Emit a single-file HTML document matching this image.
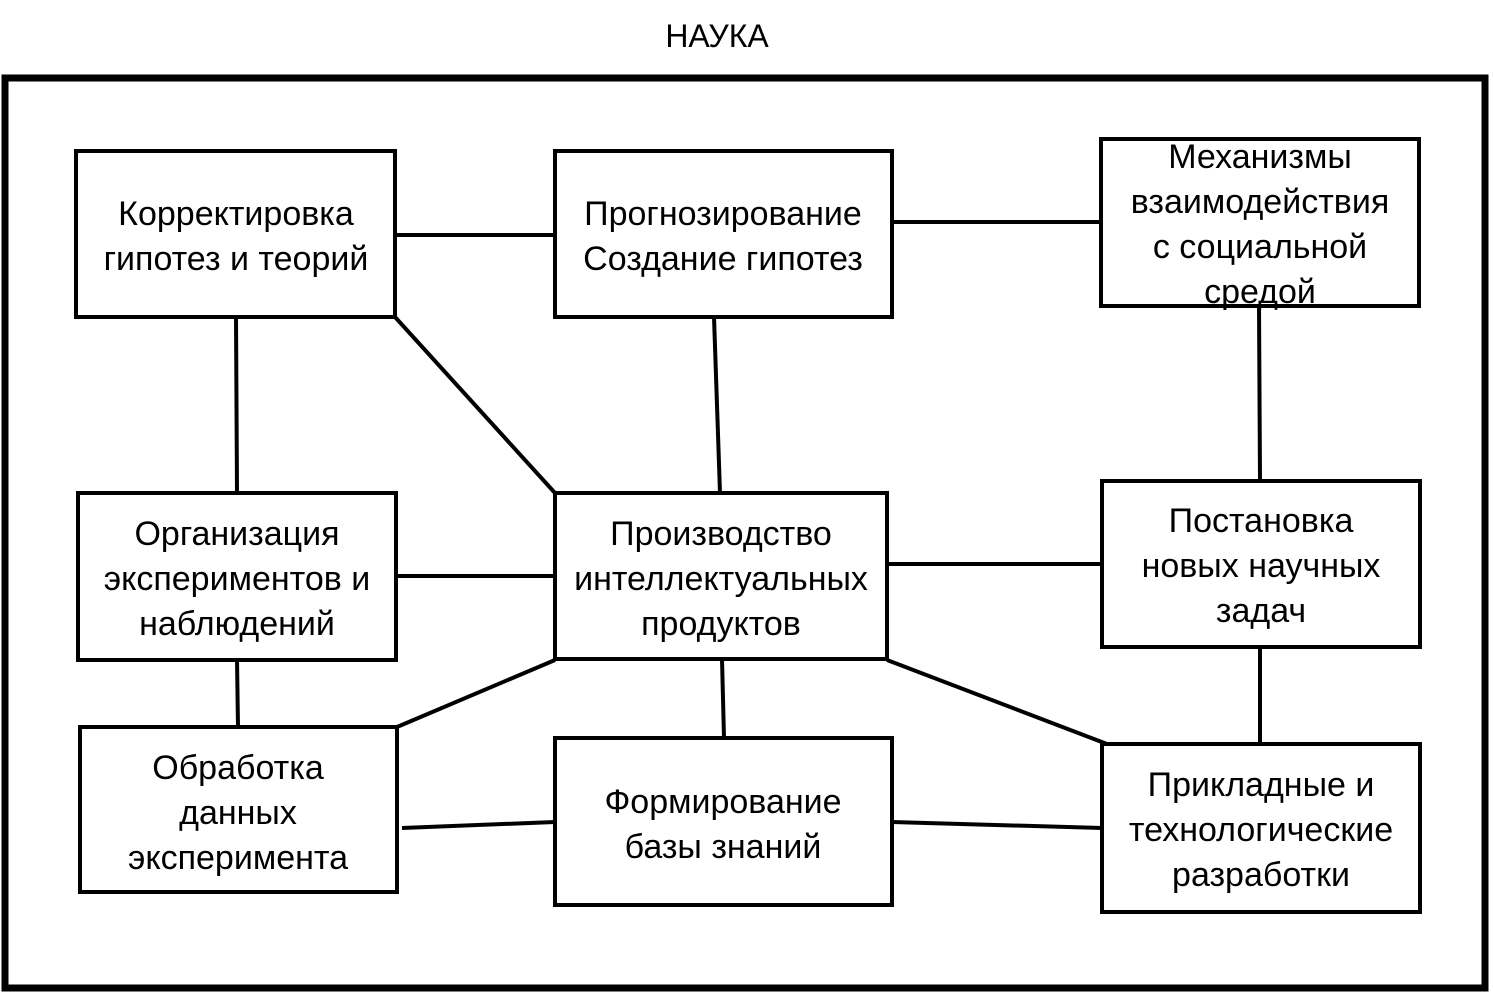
<!DOCTYPE html>
<html><head><meta charset="utf-8"><style>
html,body{margin:0;padding:0;background:#fff;}
svg{display:block;}
text{font-family:"Liberation Sans","DejaVu Sans",sans-serif;font-size:34px;fill:#000;text-anchor:middle;}
</style></head><body>
<svg width="1493" height="995" xmlns="http://www.w3.org/2000/svg">
<text x="717" y="47" style="font-size:32px">НАУКА</text>
<rect x="5" y="78" width="1480" height="910" fill="none" stroke="#000" stroke-width="7"/>
<g stroke="#000" stroke-width="4" fill="none">
<line x1="395" y1="235" x2="555" y2="235"/>
<line x1="892" y1="222" x2="1101" y2="222"/>
<line x1="236" y1="317" x2="237" y2="493"/>
<line x1="395" y1="317" x2="555" y2="493"/>
<line x1="714" y1="317" x2="720" y2="493"/>
<line x1="1259" y1="306" x2="1260" y2="481"/>
<line x1="396" y1="576" x2="555" y2="576"/>
<line x1="887" y1="564" x2="1102" y2="564"/>
<line x1="237" y1="660" x2="238" y2="727"/>
<line x1="555" y1="660" x2="397" y2="727"/>
<line x1="722" y1="659" x2="724" y2="738"/>
<line x1="887" y1="660" x2="1107" y2="744"/>
<line x1="1260" y1="647" x2="1260" y2="744"/>
<line x1="402" y1="828" x2="555" y2="822"/>
<line x1="892" y1="822" x2="1102" y2="828"/>
<rect x="76" y="151" width="319" height="166" fill="#fff"/>
<rect x="555" y="151" width="337" height="166" fill="#fff"/>
<rect x="1101" y="139" width="318" height="167" fill="#fff"/>
<rect x="78" y="493" width="318" height="167" fill="#fff"/>
<rect x="555" y="493" width="332" height="166" fill="#fff"/>
<rect x="1102" y="481" width="318" height="166" fill="#fff"/>
<rect x="80" y="727" width="317" height="165" fill="#fff"/>
<rect x="555" y="738" width="337" height="167" fill="#fff"/>
<rect x="1102" y="744" width="318" height="168" fill="#fff"/>
</g>
<text x="236" y="225">Корректировка</text>
<text x="236" y="270">гипотез и теорий</text>
<text x="723" y="225">Прогнозирование</text>
<text x="723" y="270">Создание гипотез</text>
<text x="1260" y="168">Механизмы</text>
<text x="1260" y="213">взаимодействия</text>
<text x="1260" y="258">с социальной</text>
<text x="1260" y="303">средой</text>
<text x="237" y="545">Организация</text>
<text x="237" y="590">экспериментов и</text>
<text x="237" y="635">наблюдений</text>
<text x="721" y="545">Производство</text>
<text x="721" y="590">интеллектуальных</text>
<text x="721" y="635">продуктов</text>
<text x="1261" y="532">Постановка</text>
<text x="1261" y="577">новых научных</text>
<text x="1261" y="622">задач</text>
<text x="238" y="779">Обработка</text>
<text x="238" y="824">данных</text>
<text x="238" y="869">эксперимента</text>
<text x="723" y="813">Формирование</text>
<text x="723" y="858">базы знаний</text>
<text x="1261" y="796">Прикладные и</text>
<text x="1261" y="841">технологические</text>
<text x="1261" y="886">разработки</text>
</svg>
</body></html>
